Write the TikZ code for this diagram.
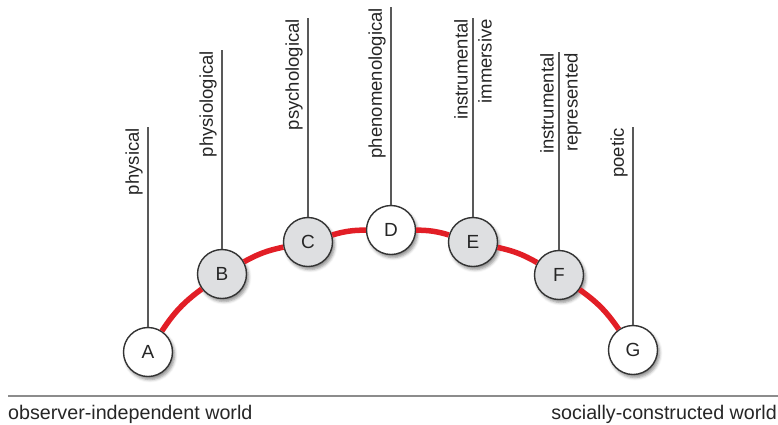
\documentclass[tikz,border=0pt]{standalone}
\usepackage{fontspec}
\setmainfont{Liberation Sans}
\usetikzlibrary{shadows.blur}
\definecolor{arcred}{HTML}{E21E26}
\definecolor{stagegray}{HTML}{DEDFE1}
\begin{document}
\begin{tikzpicture}[x=1pt,y=-1pt,
  stage/.style={circle, draw=black!80, line width=1.4pt, minimum size=49pt,
    inner sep=0pt, font=\fontsize{19}{22}\selectfont, text=black!85,
    blur shadow={shadow xshift=2pt, shadow yshift=-3pt,
      shadow blur radius=3pt, shadow opacity=45}},
  open/.style={stage, fill=white},
  shaded/.style={stage, fill=stagegray},
  arcline/.style={draw=arcred, line width=5.5pt},
  stem/.style={draw=black!65, line width=1.2pt},
  lab/.style={rotate=90, inner sep=0pt, font=\fontsize{18.5}{20}\selectfont, text=black!85},
  leftlab/.style={lab, anchor=south east},
  rightlab/.style={lab, anchor=north east},
  worldtext/.style={inner sep=0pt, font=\fontsize{19.7}{22}\selectfont, text=black!85},
  baseline/.style={draw=black!45, line width=2pt}
]
\useasboundingbox (0,0) rectangle (778,424);

% stages along the arc
\node[open]   (A) at (148,352) {A};
\node[shaded] (B) at (222,274) {B};
\node[shaded] (C) at (308,242) {C};
\node[open]   (D) at (391,230) {D};
\node[shaded] (E) at (473,242) {E};
\node[shaded] (F) at (559,275) {F};
\node[open]   (G) at (633,350) {G};

% red arc linking the stages
\draw[arcline] (A) to[bend left=10] (B);
\draw[arcline] (B) to[bend left=8.6] (C);
\draw[arcline] (C) to[bend left=8] (D);
\draw[arcline] (D) to[bend left=8] (E);
\draw[arcline] (E) to[bend left=8.6] (F);
\draw[arcline] (F) to[bend left=10] (G);

% stems and their labels
\coordinate (tA) at (148,127);
\coordinate (tB) at (222,50);
\coordinate (tC) at (308,18);
\coordinate (tD) at (391,7);
\coordinate (tE) at (473,18);
\coordinate (tF) at (559,52);
\coordinate (tG) at (633,127);
\foreach \s in {A,B,C,D,E,F,G} {\draw[stem] (\s.north) -- (t\s);}

\node[leftlab] (lA) at ([xshift=-5pt,yshift=-1pt]tA) {physical};
\node[leftlab] (lB) at ([xshift=-5pt,yshift=-1pt]tB) {physiological};
\node[leftlab] (lC) at ([xshift=-5pt,yshift=-1pt]tC) {psychological};
\node[leftlab] (lD) at ([xshift=-5pt,yshift=-1pt]tD) {phenomenological};
\node[leftlab] (lE) at ([xshift=-5pt,yshift=-1pt]tE) {instrumental};
\node[rightlab] (rE) at ([xshift=5pt,yshift=-1pt]tE) {immersive};
\node[leftlab] (lF) at ([xshift=-5pt,yshift=-1pt]tF) {instrumental};
\node[rightlab] (rF) at ([xshift=5pt,yshift=-1pt]tF) {represented};
\node[leftlab] (lG) at ([xshift=-5pt,yshift=-1pt]tG) {poetic};

% axis between the two worlds
\coordinate (axL) at (8,396);
\coordinate (axR) at (778,396);
\draw[baseline] (axL) -- (axR);
\node[worldtext, anchor=base west] (wL) at (8,419) {observer-independent world};
\node[worldtext, anchor=base east] (wR) at (777,419) {socially-constructed world};
\end{tikzpicture}
\end{document}
